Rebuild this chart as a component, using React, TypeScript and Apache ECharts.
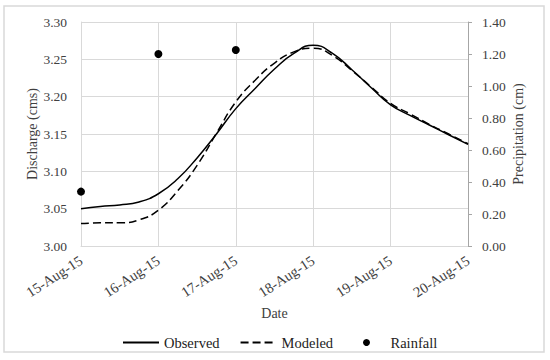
import React, { useEffect, useRef } from "react";
import * as echarts from "echarts";

const dateLabels = ["15-Aug-15", "16-Aug-15", "17-Aug-15", "18-Aug-15", "19-Aug-15", "20-Aug-15"];
const dayOffsets = [0, 0.25, 0.5, 0.75, 1, 1.25, 1.5, 1.75, 2, 2.25, 2.5, 2.75, 3, 3.25, 3.5, 3.75, 4, 4.25, 4.5, 4.75, 5];
const observed = [3.05, 3.053, 3.055, 3.059, 3.07, 3.09, 3.118, 3.15, 3.184, 3.211, 3.237, 3.258, 3.269, 3.258, 3.236, 3.212, 3.189, 3.175, 3.162, 3.149, 3.136];
const modeled = [3.03, 3.031, 3.031, 3.035, 3.048, 3.074, 3.108, 3.151, 3.193, 3.222, 3.245, 3.26, 3.265, 3.255, 3.235, 3.213, 3.191, 3.177, 3.163, 3.15, 3.137];
const rainDays = [0, 1, 2];
const rainfall = [0.34, 1.2, 1.225];

const FONT = "'Liberation Serif', serif";
const TXT = "#404040";

export default function App() {
  const ref = useRef<HTMLDivElement>(null);
  useEffect(() => {
    if (!ref.current) return;
    const chart = echarts.init(ref.current, null, { renderer: "svg" });
    chart.setOption({
      animation: false,
      textStyle: { fontFamily: FONT },
      graphic: [
        {
          type: "rect",
          shape: { x: 4, y: 6, width: 540, height: 346 },
          style: { fill: "none", stroke: "#d9d9d9", lineWidth: 1.5 },
          silent: true,
        },
      ],
      grid: { left: 81, right: 82, top: 22, bottom: 114 },
      legend: [
        {
          left: 117,
          top: 330,
          itemWidth: 36,
          itemHeight: 7,
          itemGap: 20,
          textStyle: { fontFamily: FONT, fontSize: 14.5, color: "#222" },
          data: [
            { name: "Observed", itemStyle: { opacity: 0 } },
            { name: "Modeled", itemStyle: { opacity: 0 } },
          ],
        },
        {
          left: 358,
          top: 330,
          itemWidth: 8,
          itemHeight: 7,
          textStyle: { fontFamily: FONT, fontSize: 14.5, color: "#222", padding: [0, 0, 0, 15] },
          data: [{ name: "Rainfall", icon: "circle" }],
        },
      ],
      xAxis: {
        type: "value",
        min: 0,
        max: 5,
        interval: 1,
        name: "Date",
        nameLocation: "middle",
        nameGap: 60,
        nameMoveOverlap: false,
        nameTextStyle: { fontFamily: FONT, fontSize: 14, color: TXT },
        axisLine: { show: true, lineStyle: { color: "#d9d9d9" } },
        axisTick: { show: false },
        splitLine: { show: true, lineStyle: { color: "#d9d9d9" } },
        axisLabel: {
          rotate: 33,
          margin: 13,
          fontFamily: FONT,
          fontSize: 14.5,
          color: TXT,
          formatter: (v: number) => dateLabels[Math.round(v)] ?? "",
        },
      },
      yAxis: [
        {
          type: "value",
          min: 3.0,
          max: 3.3,
          interval: 0.05,
          name: "Discharge (cms)",
          nameLocation: "middle",
          nameGap: 42,
          nameMoveOverlap: false,
          nameTextStyle: { fontFamily: FONT, fontSize: 14, color: TXT },
          axisLine: { show: true, lineStyle: { color: "#d9d9d9" } },
          axisTick: { show: false },
          splitLine: { show: true, lineStyle: { color: "#d9d9d9" } },
          axisLabel: {
            margin: 14,
            fontFamily: FONT,
            fontSize: 13.5,
            color: TXT,
            formatter: (v: number) => v.toFixed(2),
          },
        },
        {
          type: "value",
          min: 0,
          max: 1.4,
          interval: 0.2,
          position: "right",
          name: "Precipitation (cm)",
          nameLocation: "middle",
          nameGap: 43,
          nameMoveOverlap: false,
          nameTextStyle: { fontFamily: FONT, fontSize: 14, color: TXT },
          axisLine: { show: true, lineStyle: { color: "#a6a6a6" } },
          axisTick: { show: true, length: 4, lineStyle: { color: "#a6a6a6" } },
          splitLine: { show: false },
          axisLabel: {
            margin: 14,
            fontFamily: FONT,
            fontSize: 13.5,
            color: TXT,
            formatter: (v: number) => v.toFixed(2),
          },
        },
      ],
      series: [
        {
          name: "Observed",
          type: "line",
          yAxisIndex: 0,
          smooth: true,
          symbol: "none",
          lineStyle: { color: "#000", width: 1.5 },
          itemStyle: { color: "#000" },
          data: dayOffsets.map((d, i) => [d, observed[i]]),
        },
        {
          name: "Modeled",
          type: "line",
          yAxisIndex: 0,
          smooth: true,
          symbol: "none",
          lineStyle: { color: "#000", width: 1.5, type: [8, 4] },
          itemStyle: { color: "#000" },
          data: dayOffsets.map((d, i) => [d, modeled[i]]),
        },
        {
          name: "Rainfall",
          type: "scatter",
          yAxisIndex: 1,
          symbol: "circle",
          symbolSize: 8,
          itemStyle: { color: "#000", opacity: 1 },
          data: rainDays.map((d, i) => [d, rainfall[i]]),
        },
      ],
    });
    return () => chart.dispose();
  }, []);
  return (
    <div
      ref={ref}
      style={{ position: "fixed", left: 0, top: 0, width: 550, height: 360, background: "#fff" }}
    />
  );
}
